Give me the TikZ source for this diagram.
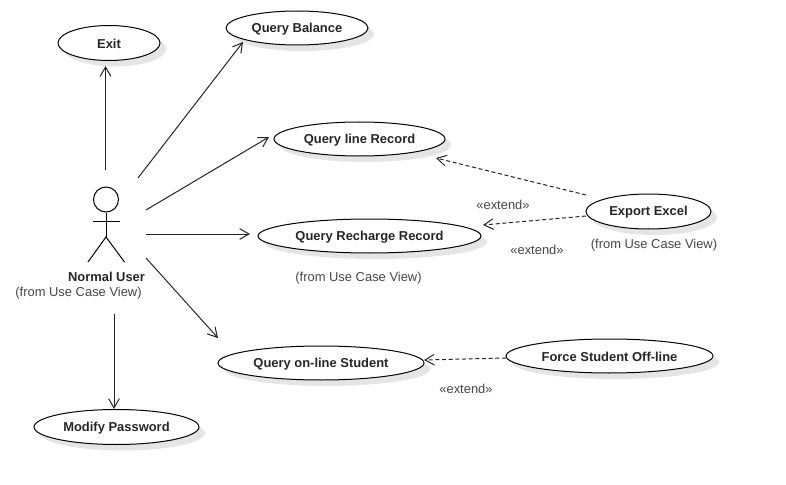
\documentclass[tikz,border=0pt]{standalone}
\usepackage{fontspec}
\setmainfont{Liberation Sans}
\usetikzlibrary{arrows.meta,shapes.geometric}
\tikzset{
  usecase/.style={draw=black,fill=white,ellipse,line width=0.75pt,inner sep=0pt},
  uclabel/.style={font=\fontsize{9.7}{11}\selectfont\bfseries,text=black!85,inner sep=0pt},
  shade/.style={fill=black!10,draw=none,ellipse,inner sep=0pt},
  assoc/.style={line width=0.75pt,draw=black!85,-{Straight Barb[length=7pt,width=8pt,line width=0.75pt]}},
  ext/.style={assoc,dash pattern=on 3pt off 2pt},
  note/.style={font=\fontsize{9.7}{11}\selectfont,text=black!72,inner sep=0pt},
  actorline/.style={line width=0.75pt,draw=black}
}
\newcommand{\ucase}[6]{%
  \node[shade,minimum width=#3*0.75pt,minimum height=#4*0.75pt] at (#1+6,#2+6) {};
  \node[usecase,minimum width=#3*0.75pt,minimum height=#4*0.75pt] (#5) at (#1,#2) {};
  \node[uclabel] (#5label) at (#1,#2+1) {#6};
}
\begin{document}
\begin{tikzpicture}[x=0.75pt,y=-0.75pt]
\useasboundingbox (0,0) rectangle (786,485);
\fill[white] (0,0) rectangle (786,485);
\ucase{109}{43}{102}{35}{exit}{Exit}
\ucase{297}{28}{142}{34}{balance}{Query Balance}
\ucase{359.5}{139}{171}{34}{linerec}{Query line Record}
\ucase{369.5}{236}{223}{34}{recharge}{Query Recharge Record}
\ucase{648.5}{211.5}{125}{35}{export}{Export Excel}
\ucase{321}{363}{206}{34}{online}{Query on-line Student}
\ucase{609.5}{356}{207}{34}{force}{Force Student Off-line}
\ucase{116.5}{427}{165}{35}{modify}{Modify Password}
% actor
\node[circle,draw=black,line width=0.75pt,minimum size=25*0.75pt,inner sep=0pt] (head) at (106,199.5) {};
\coordinate (hip) at (106,237);
\coordinate (armL) at (93,221);
\coordinate (armR) at (119.5,221);
\coordinate (footL) at (88,262);
\coordinate (footR) at (124.5,262);
\draw[actorline] (head.south) -- (hip);
\draw[actorline] (armL) -- (armR);
\draw[actorline] (footL) -- (hip) -- (footR);
\node[uclabel] (actorname) at (106.5,277) {Normal User};
\node[note] (actorfrom) at (78.5,293) {(from Use Case View)};
% free ends
\coordinate (s1) at (105.5,170);
\coordinate (e1) at (105.5,66);
\coordinate (s2) at (138,178);
\coordinate (e2) at (243,42);
\coordinate (s3) at (146,210);
\coordinate (e3) at (269,137);
\coordinate (s4) at (146,234);
\coordinate (e4) at (250,234);
\coordinate (s5) at (146,258);
\coordinate (e5) at (218,338);
\coordinate (s6) at (114,314);
\coordinate (e6) at (114,409);
\coordinate (s7) at (586,195);
\coordinate (e7) at (436,158);
\coordinate (s8) at (586,216);
\coordinate (e8) at (483,225);
\coordinate (s9) at (506,358);
\coordinate (e9) at (424,360);
\draw[assoc] (s1) -- (e1);
\draw[assoc] (s2) -- (e2);
\draw[assoc] (s3) -- (e3);
\draw[assoc] (s4) -- (e4);
\draw[assoc] (s5) -- (e5);
\draw[assoc] (s6) -- (e6);
\draw[ext] (s7) -- (e7);
\draw[ext] (s8) -- (e8);
\draw[ext] (s9) -- (e9);
\node[note] (x1) at (503,205) {«extend»};
\node[note] (x2) at (537,250) {«extend»};
\node[note] (x3) at (466,389) {«extend»};
\node[note] (f1) at (654,245) {(from Use Case View)};
\node[note] (f2) at (358.5,278) {(from Use Case View)};
\end{tikzpicture}
\end{document}
